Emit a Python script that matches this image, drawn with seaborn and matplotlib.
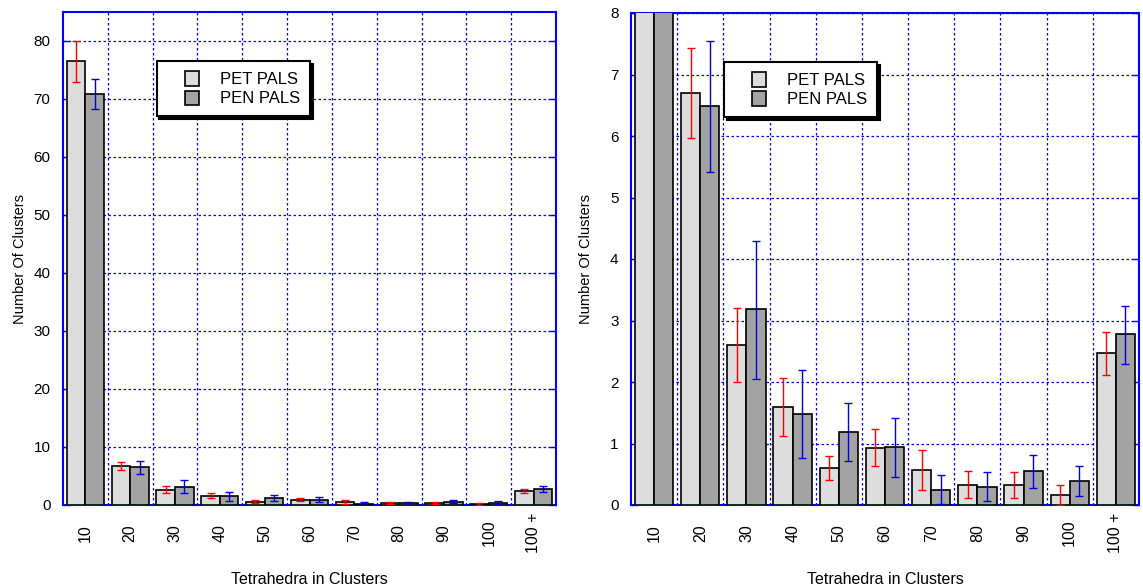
import numpy as np
import pandas as pd
import matplotlib
matplotlib.use("Agg")
import matplotlib.pyplot as plt
import seaborn as sns
from matplotlib.patches import Patch, Rectangle
from matplotlib.legend_handler import HandlerPatch
from matplotlib.ticker import FixedLocator

categories = ["10", "20", "30", "40", "50", "60", "70", "80", "90", "100", "100 +"]
pet_values = [76.5, 6.70, 2.60, 1.60, 0.60, 0.93, 0.57, 0.33, 0.33, 0.17, 2.47]
pet_low = [72.9, 5.97, 2.00, 1.13, 0.40, 0.63, 0.24, 0.11, 0.12, 0.00, 2.11]
pet_high = [80.0, 7.43, 3.20, 2.06, 0.80, 1.23, 0.89, 0.55, 0.53, 0.33, 2.82]
pen_values = [70.9, 6.48, 3.18, 1.48, 1.19, 0.94, 0.24, 0.30, 0.55, 0.39, 2.78]
pen_low = [68.2, 5.42, 2.05, 0.76, 0.71, 0.46, 0.01, 0.06, 0.27, 0.15, 2.30]
pen_high = [73.5, 7.55, 4.30, 2.20, 1.66, 1.42, 0.48, 0.53, 0.82, 0.64, 3.24]
series = ["PET PALS", "PEN PALS"]

df = pd.DataFrame({
    "cat": categories * 2,
    "val": pet_values + pen_values,
    "series": [series[0]] * len(categories) + [series[1]] * len(categories),
})

plt.rcParams["font.family"] = ["Liberation Sans", "DejaVu Sans"]

colors = {"PET PALS": "#dcdddc", "PEN PALS": "#a3a3a3"}
err_colors = ["#ff0000", "#0000dd"]
BLUE = "#0000ff"


def square_right(legend, orig_handle, xdescent, ydescent, width, height, fontsize):
    s = height
    return Rectangle((-xdescent + width - s, -ydescent), s, s)


fig = plt.figure(figsize=(11.43, 5.88), dpi=100)
ax1 = fig.add_axes([63 / 1143, 83 / 588, 493 / 1143, 493 / 588])
ax2 = fig.add_axes([631 / 1143, 83 / 588, 508 / 1143, 492 / 588])

def draw(ax, ylim, yticks, legend_anchor, ylabelpad):
    sns.barplot(data=df, x="cat", y="val", hue="series", order=categories,
                hue_order=series, palette=colors, width=0.83, edgecolor="black",
                linewidth=1.2, ax=ax, legend=False, errorbar=None, zorder=3)
    n = len(categories)
    bars = ax.patches[:2 * n]
    for k, (vals, lo, hi) in enumerate([(pet_values, pet_low, pet_high),
                                          (pen_values, pen_low, pen_high)]):
        xs = [b.get_x() + b.get_width() / 2 for b in bars[k * n:(k + 1) * n]]
        v = np.array(vals)
        yerr = np.vstack([v - np.array(lo), np.array(hi) - v])
        ax.errorbar(xs, v, yerr=yerr, fmt="none", ecolor=err_colors[k],
                    elinewidth=1.0, capsize=3, capthick=1.0, zorder=4)
    ax.set_xlim(-0.5, n - 0.5)
    ax.set_ylim(*ylim)
    ax.set_yticks(yticks)
    ax.set_yticklabels([str(t) for t in yticks], fontsize=11)
    ax.xaxis.set_minor_locator(FixedLocator(np.arange(0.5, n - 0.5, 1.0)))
    ax.grid(False)
    ax.grid(True, axis="y", which="major", color=BLUE, linestyle=(0, (2, 2)), linewidth=0.9, zorder=0)
    ax.grid(True, axis="x", which="minor", color=BLUE, linestyle=(0, (2, 2)), linewidth=0.9, zorder=0)
    ax.set_axisbelow(True)
    ax.tick_params(axis="y", direction="in", length=5, width=1, color=BLUE,
                   left=True, right=True, labelleft=True, pad=9)
    ax.tick_params(axis="x", which="major", length=0, pad=20)
    ax.tick_params(axis="x", which="minor", length=0)
    for lab in ax.get_xticklabels():
        lab.set_rotation(90)
        lab.set_va("center")
        lab.set_ha("center")
        lab.set_fontsize(11.5)
    for s in ax.spines.values():
        s.set_color(BLUE)
        s.set_linewidth(1.5)
        s.set_visible(True)
    ax.set_xlabel("Tetrahedra in Clusters", fontsize=11.5, labelpad=14)
    ax.set_ylabel("Number Of Clusters", fontsize=10.5, labelpad=ylabelpad)
    handles = [Patch(facecolor=colors[s], edgecolor="black", linewidth=1.2) for s in series]
    leg = ax.legend(handles, series, loc="upper left", bbox_to_anchor=legend_anchor,
                    fontsize=12, frameon=True, fancybox=False, edgecolor="black",
                    framealpha=1, shadow={"color": "black", "alpha": 1},
                    handlelength=1.95, handleheight=0.95, handletextpad=1.25,
                    borderpad=0.6, borderaxespad=0, labelspacing=0.2,
                    handler_map={Patch: HandlerPatch(patch_func=square_right)})
    leg.get_frame().set_linewidth(1.5)
    leg.set_zorder(10)

draw(ax1, (0, 85), list(range(0, 81, 10)), (0.19, 0.9), 5)
draw(ax2, (0, 8), list(range(0, 9)), (0.183, 0.9), 12)

fig.savefig("out.png", dpi=100)
